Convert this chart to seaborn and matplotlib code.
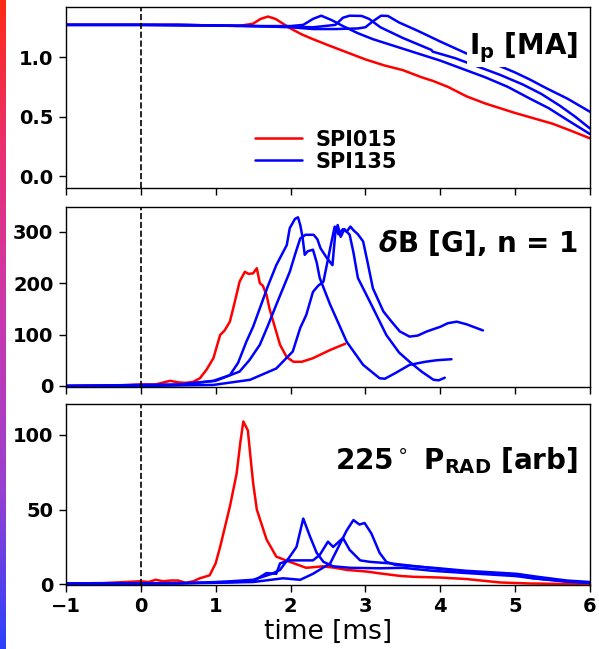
import numpy as np
import pandas as pd
import matplotlib
matplotlib.use("Agg")
import matplotlib.pyplot as plt
import seaborn as sns
from matplotlib.colors import LinearSegmentedColormap

# ---------------- data ----------------
groups = ["SPI015", "SPI135"]
group_colors = {"SPI015": "#ff0000", "SPI135": "#0000ff"}
x_ticks = [-1, 0, 1, 2, 3, 4, 5, 6]

# Panel 1: plasma current Ip [MA]
ip_red_t = [-1.0, -0.5, 0.0, 0.5, 1.0, 1.3, 1.5, 1.6, 1.7, 1.8, 1.9, 2.0, 2.15, 2.3, 2.5, 2.75, 3.0,
            3.25, 3.5, 3.75, 3.9, 4.1, 4.35, 4.6, 4.8, 5.0, 5.25, 5.5, 5.75, 6.0]
ip_red_v = [1.27, 1.27, 1.27, 1.27, 1.265, 1.26, 1.28, 1.32, 1.34, 1.32, 1.28, 1.24, 1.19, 1.15, 1.10,
            1.04, 0.98, 0.93, 0.89, 0.83, 0.80, 0.75, 0.67, 0.61, 0.57, 0.53, 0.485, 0.44, 0.38, 0.317]
ip_a_t = [-1.0, -0.5, 0.0, 0.5, 1.0, 1.5, 2.0, 2.17, 2.3, 2.41, 2.55, 2.7, 2.9, 3.1, 3.4, 3.7, 4.0,
          4.3, 4.6, 4.9, 5.2, 5.45, 5.7, 6.0]
ip_a_v = [1.27, 1.27, 1.27, 1.265, 1.265, 1.26, 1.26, 1.27, 1.32, 1.347, 1.31, 1.26, 1.20, 1.15,
          1.09, 1.03, 0.97, 0.90, 0.83, 0.75, 0.65, 0.57, 0.47, 0.353]
ip_b_t = [-1.0, -0.5, 0.0, 0.5, 1.0, 1.5, 2.0, 2.3, 2.6, 2.7, 2.79, 2.95, 3.05, 3.2, 3.5, 3.88, 3.9,
          4.2, 4.5, 4.8, 5.1, 5.35, 5.6, 5.8, 6.0]
ip_b_v = [1.27, 1.27, 1.27, 1.27, 1.265, 1.26, 1.255, 1.25, 1.27, 1.33, 1.347, 1.345, 1.32, 1.25,
          1.16, 1.06, 1.045, 0.99, 0.92, 0.85, 0.77, 0.69, 0.59, 0.50, 0.40]
ip_c_t = [-1.0, -0.5, 0.0, 0.5, 1.0, 1.5, 2.0, 2.3, 2.6, 2.9, 3.0, 3.1, 3.21, 3.3, 3.45, 3.7, 4.0,
          4.35, 4.71, 5.0, 5.2, 5.42, 5.7, 6.0]
ip_c_v = [1.27, 1.27, 1.27, 1.27, 1.265, 1.26, 1.25, 1.235, 1.235, 1.24, 1.25, 1.30, 1.347, 1.345,
          1.29, 1.22, 1.13, 1.03, 0.947, 0.87, 0.81, 0.737, 0.65, 0.54]

# Panel 2: n = 1 mode amplitude dB [G]
db_red_t = [-1.0, -0.3, 0.0, 0.2, 0.39, 0.5, 0.6, 0.7, 0.79, 0.88, 0.97, 1.06, 1.12, 1.19, 1.25, 1.32,
            1.39, 1.44, 1.50, 1.55, 1.59, 1.63, 1.68, 1.72, 1.77, 1.86, 1.95, 2.04, 2.15, 2.30, 2.53, 2.73]
db_red_v = [0, 1, 3, 3, 10, 7, 6, 8, 15, 32, 54, 99, 108, 125, 160, 203, 222, 218, 219, 229, 200, 195,
            177, 150, 125, 80, 56, 47, 47, 54, 70, 82]
db_a_t = [-1.0, 0.0, 0.52, 0.97, 1.19, 1.3, 1.41, 1.5, 1.59, 1.7, 1.81, 1.95, 1.99, 2.06, 2.10, 2.13,
          2.16, 2.19, 2.23, 2.30, 2.35, 2.39, 2.53, 2.75, 2.97, 3.19, 3.26, 3.4, 3.59, 3.8, 3.95, 4.15]
db_a_v = [0, 2, 3, 10, 21, 45, 86, 115, 151, 195, 235, 274, 307, 325, 328, 313, 290, 255, 262, 265,
          240, 210, 158, 86, 41, 15, 14, 25, 41, 47, 50, 52]
db_b_t = [-1.0, 0.0, 0.5, 1.0, 1.32, 1.45, 1.59, 1.7, 1.81, 1.99, 2.07, 2.13, 2.2, 2.31, 2.36, 2.4,
          2.48, 2.56, 2.60, 2.63, 2.67, 2.72, 2.79, 2.84, 2.90, 3.08, 3.28, 3.45, 3.59, 3.75, 3.91,
          3.98, 4.06]
db_b_v = [0, 1, 2, 10, 28, 50, 80, 118, 158, 222, 260, 287, 294, 294, 285, 268, 250, 235, 300, 313,
          290, 305, 294, 260, 210, 158, 99, 65, 47, 28, 12, 11, 16]
db_c_t = [-1.0, 0.0, 0.97, 1.46, 1.81, 2.03, 2.13, 2.21, 2.30, 2.37, 2.44, 2.53, 2.59, 2.64, 2.70,
          2.75, 2.80, 2.84, 2.90, 2.97, 3.03, 3.10, 3.24, 3.35, 3.46, 3.59, 3.7, 3.82, 4.0, 4.1, 4.22,
          4.35, 4.57]
db_c_v = [0, 0, 2, 12, 34, 67, 113, 138, 183, 195, 203, 268, 310, 295, 305, 300, 310, 303, 295, 281,
          240, 190, 145, 125, 106, 96, 98, 106, 115, 122, 125, 120, 108]

# Panel 3: radiated power at 225 deg [arb]
pr_red_t = [-1.0, -0.5, 0.0, 0.1, 0.2, 0.3, 0.4, 0.5, 0.6, 0.7, 0.79, 0.92, 1.0, 1.06, 1.19, 1.28,
            1.33, 1.37, 1.43, 1.50, 1.55, 1.68, 1.81, 1.99, 2.21, 2.43, 2.6, 2.75, 3.02, 3.19, 3.46,
            3.64, 4.0, 4.35, 4.8, 5.2, 6.0]
pr_red_v = [0.5, 0.8, 2, 1.5, 3, 2, 2.5, 2.5, 1, 2, 4, 6, 14, 25, 52, 74, 95, 109, 103, 68, 50, 30,
            18.5, 15, 11, 12, 11, 9.6, 8.5, 7.3, 5.6, 5, 4.5, 3.5, 1.2, 0.5, 0]
pr_a_t = [-1.0, 0.0, 0.5, 1.0, 1.2, 1.5, 1.63, 1.75, 1.86, 1.99, 2.08, 2.17, 2.26, 2.35, 2.44, 2.57,
          2.8, 3.19, 3.5, 3.9, 4.35, 5.0, 5.24, 5.69, 6.0]
pr_a_v = [0.5, 0.5, 0.5, 1.5, 2, 3, 5, 7, 9.6, 18.5, 25, 44, 32, 21, 15, 12, 11, 10.7, 11, 9, 7.5,
          5.5, 4, 1.7, 1]
pr_b_t = [-1.0, 0.0, 1.0, 1.5, 1.68, 1.81, 1.86, 1.99, 2.08, 2.3, 2.39, 2.50, 2.57, 2.70, 2.79, 2.93,
          3.06, 3.33, 3.91, 4.35, 5.02, 5.24, 5.69, 6.0]
pr_b_v = [0.5, 0.5, 1, 2, 7.5, 7, 14, 16, 16, 16, 19.6, 28.5, 25, 31, 23, 16, 15, 14, 10.7, 8.5, 6.2,
          4, 2, 1]
pr_c_t = [-1.0, 0.0, 1.0, 1.5, 1.9, 2.13, 2.30, 2.53, 2.62, 2.75, 2.84, 2.92, 2.99, 3.08, 3.19, 3.28,
          3.4, 3.91, 4.35, 5.02, 5.3, 5.69, 6.0]
pr_c_v = [0.5, 0.5, 1, 1.5, 4, 3, 7, 14, 23, 36, 43, 40, 41, 34, 21, 15, 13, 11, 9, 7, 5, 2.5, 1.5]


def frame(series):
    rows = []
    for shot, group, t, v in series:
        for ti, vi in zip(t, v):
            rows.append((shot, group, ti, vi))
    return pd.DataFrame(rows, columns=["shot", "group", "time", "value"])


df_ip = frame([("r", "SPI015", ip_red_t, ip_red_v), ("a", "SPI135", ip_a_t, ip_a_v),
               ("b", "SPI135", ip_b_t, ip_b_v), ("c", "SPI135", ip_c_t, ip_c_v)])
df_db = frame([("r", "SPI015", db_red_t, db_red_v), ("a", "SPI135", db_a_t, db_a_v),
               ("b", "SPI135", db_b_t, db_b_v), ("c", "SPI135", db_c_t, db_c_v)])
df_pr = frame([("r", "SPI015", pr_red_t, pr_red_v), ("a", "SPI135", pr_a_t, pr_a_v),
               ("b", "SPI135", pr_b_t, pr_b_v), ("c", "SPI135", pr_c_t, pr_c_v)])

# ---------------- style ----------------
sns.set_theme(style="ticks")
plt.rcParams.update({
    "font.family": ["DejaVu Sans"],
    "text.color": "black",
    "axes.labelcolor": "black",
    "axes.edgecolor": "black",
    "axes.linewidth": 1.0,
    "xtick.color": "black",
    "ytick.color": "black",
    "xtick.labelcolor": "black",
    "ytick.labelcolor": "black",
    "xtick.major.size": 5,
    "ytick.major.size": 5,
    "xtick.major.width": 1.0,
    "ytick.major.width": 1.0,
    "xtick.major.pad": 3.5,
    "ytick.major.pad": 4,
    "mathtext.fontset": "dejavusans",
})

fig = plt.figure(figsize=(5.99, 6.49), dpi=100)
left, width = 0.110, 0.875
ax1 = fig.add_axes([left, 0.7103, width, 0.2789])
ax2 = fig.add_axes([left, 0.4042, width, 0.2768], sharex=ax1)
ax3 = fig.add_axes([left, 0.0986, width, 0.2789], sharex=ax1)

for ax, d in [(ax1, df_ip), (ax2, df_db), (ax3, df_pr)]:
    sns.lineplot(data=d, x="time", y="value", hue="group", hue_order=groups, units="shot",
                 estimator=None, sort=False, palette=group_colors, lw=1.8, ax=ax, legend=(ax is ax1))
    ax.axvline(0, color="black", ls="--", lw=1.2, zorder=5)
    ax.set_xlim(-1, 6)
    ax.set_xticks(x_ticks)
    ax.set_ylabel("")
    ax.set_xlabel("")
    ax.tick_params(labelsize=14, colors="black")

ax1.set_ylim(-0.10, 1.42)
ax1.set_yticks([0.0, 0.5, 1.0])
ax2.set_ylim(-1.4, 348)
ax2.set_yticks([0, 100, 200, 300])
ax3.set_ylim(-0.5, 120.7)
ax3.set_yticks([0, 50, 100])

for ax in (ax1, ax2):
    ax.tick_params(labelbottom=False)

ax3.set_xticklabels(["\u22121", "0", "1", "2", "3", "4", "5", "6"])
for ax in (ax1, ax2, ax3):
    for lab in ax.get_yticklabels() + ax.get_xticklabels():
        lab.set_fontweight("bold")
        lab.set_fontsize(14)
        lab.set_color("black")
ax3.set_xlabel("time [ms]", fontsize=19, labelpad=2, color="black")

handles, labels = ax1.get_legend_handles_labels()
leg = ax1.legend(handles, labels, loc="center left", bbox_to_anchor=(0.361, 0.207), frameon=False,
                 borderaxespad=0, borderpad=0, handlelength=2.26, handletextpad=0.63,
                 labelspacing=0.1, prop={"weight": "bold", "size": 15})
for txt in leg.get_texts():
    txt.set_color("black")

box = dict(facecolor="white", edgecolor="none", pad=1.0)
ax1.text(0.977, 0.87, r"I$_\mathbf{p}$ [MA]", transform=ax1.transAxes, ha="right", va="top",
         fontsize=20, fontweight="bold", bbox=box, zorder=6, color="black")
ax2.text(0.977, 0.885, r"$\boldsymbol{\delta}$B [G], n = 1", transform=ax2.transAxes, ha="right",
         va="top", fontsize=20, fontweight="bold", bbox=box, zorder=6, color="black")
ax3.text(0.977, 0.773, r"225$^\circ$ P$_\mathbf{RAD}$ [arb]", transform=ax3.transAxes, ha="right",
         va="top", fontsize=20, fontweight="bold", bbox=box, zorder=6, color="black")

# decorative gradient strip at left edge
cmap = LinearSegmentedColormap.from_list("edge", ["#ff2a14", "#e8307a", "#c838b0", "#9a40d0", "#2a40ff"])
cax = fig.add_axes([0, 0, 6 / 599, 1])
cax.imshow(np.linspace(0, 1, 256)[:, None], aspect="auto", cmap=cmap, origin="upper")
cax.axis("off")

fig.savefig("out.png", dpi=100)
